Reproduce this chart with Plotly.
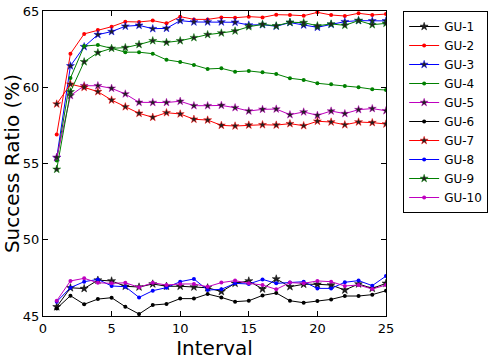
import plotly.graph_objects as go

intervals = list(range(1, 26))

gu1 = [45.6, 46.85, 46.8, 47.35, 47.3, 46.95, 46.9, 47.1, 46.95, 46.95, 46.9, 46.85, 46.6, 47.14, 47.3, 46.77, 47.43, 46.92, 47.08, 47.08, 47.03, 46.7, 47.1, 46.81, 47.14]
gu2 = [56.9, 62.2, 63.5, 63.75, 63.97, 64.3, 64.28, 64.37, 64.19, 64.63, 64.45, 64.45, 64.58, 64.56, 64.63, 64.58, 64.76, 64.74, 64.69, 64.91, 64.74, 64.67, 64.85, 64.74, 64.8]
gu3 = [55.38, 61.4, 62.66, 63.45, 63.65, 64.0, 64.06, 63.84, 63.86, 64.37, 64.28, 64.28, 64.28, 64.26, 64.08, 64.1, 64.0, 64.24, 64.08, 63.93, 64.12, 64.3, 64.37, 64.35, 64.35]
gu4 = [55.2, 60.6, 62.7, 62.77, 62.55, 62.3, 62.3, 62.2, 61.8, 61.66, 61.46, 61.2, 61.24, 61.02, 61.07, 60.98, 60.87, 60.59, 60.48, 60.26, 60.19, 60.08, 60.0, 59.87, 59.82]
gu5 = [55.4, 59.45, 60.1, 60.1, 59.93, 59.56, 59.01, 59.0, 59.0, 59.08, 58.79, 58.79, 58.81, 58.66, 58.44, 58.55, 58.57, 58.2, 58.38, 58.16, 58.44, 58.27, 58.53, 58.6, 58.46]
gu6 = [45.5, 46.33, 45.77, 46.11, 46.2, 45.61, 45.13, 45.72, 45.79, 46.14, 46.14, 46.44, 46.22, 45.94, 46.0, 46.35, 46.51, 46.0, 45.87, 45.98, 46.09, 46.31, 46.31, 46.4, 46.66]
gu7 = [58.9, 60.2, 59.99, 59.71, 59.16, 58.72, 58.29, 58.03, 58.33, 58.25, 57.9, 57.85, 57.5, 57.46, 57.52, 57.54, 57.52, 57.61, 57.48, 57.77, 57.72, 57.54, 57.72, 57.68, 57.59]
gu8 = [45.94, 46.86, 47.25, 47.4, 46.97, 46.92, 46.22, 46.66, 46.86, 47.25, 47.43, 46.7, 46.75, 47.14, 47.1, 47.4, 47.14, 47.19, 47.25, 46.81, 46.81, 47.21, 47.32, 46.99, 47.62]
gu9 = [54.62, 59.7, 61.67, 62.27, 62.55, 62.6, 62.8, 63.05, 62.94, 63.05, 63.25, 63.45, 63.56, 63.69, 63.97, 64.12, 64.03, 64.26, 64.24, 64.03, 64.15, 64.06, 64.37, 64.1, 64.19]
gu10 = [46.0, 47.3, 47.47, 47.18, 47.14, 47.18, 46.88, 47.18, 47.03, 47.1, 47.1, 46.92, 47.19, 47.32, 47.14, 47.03, 46.75, 47.19, 47.14, 47.3, 47.25, 46.97, 47.03, 46.77, 47.03]

series_names = ["GU-1", "GU-2", "GU-3", "GU-4", "GU-5", "GU-6", "GU-7", "GU-8", "GU-9", "GU-10"]
series_values = [gu1, gu2, gu3, gu4, gu5, gu6, gu7, gu8, gu9, gu10]
colors = ["#000000", "#ff0000", "#0000ff", "#008000", "#bf00bf",
          "#000000", "#ff0000", "#0000ff", "#008000", "#bf00bf"]
stars = [True, False, True, False, True, False, True, False, True, False]

fig = go.Figure()
for name, vals, col, st in zip(series_names, series_values, colors, stars):
    if st:
        marker = dict(symbol="star", size=6, color="#202020", line=dict(color=col, width=0.5))
    else:
        marker = dict(symbol="circle", size=4, color=col, line=dict(width=0))
    fig.add_trace(go.Scatter(x=intervals, y=vals, name=name, mode="lines+markers",
                             line=dict(color=col, width=1), marker=marker))

axis_common = dict(showline=True, linecolor="#000000", linewidth=1, mirror="allticks",
                   ticks="inside", ticklen=5, tickcolor="#000000", showgrid=False,
                   zeroline=False, tickfont=dict(family="DejaVu Sans", size=13, color="#000000"))

fig.update_xaxes(range=[0, 25], tickvals=[0, 5, 10, 15, 20, 25],
                 title=dict(text="Interval", font=dict(family="DejaVu Sans", size=20, color="#000000"), standoff=2),
                 **axis_common)
fig.update_yaxes(range=[45, 65], tickvals=[45, 50, 55, 60, 65],
                 title=dict(text="Success Ratio (%)", font=dict(family="DejaVu Sans", size=20, color="#000000"), standoff=2),
                 **axis_common)

fig.update_layout(
    width=489, height=360,
    margin=dict(l=43, r=103, t=11, b=44, autoexpand=False),
    plot_bgcolor="white", paper_bgcolor="white",
    legend=dict(x=1.05, y=1, xanchor="left", yanchor="top",
                bordercolor="#000000", borderwidth=1, bgcolor="white",
                font=dict(family="DejaVu Sans", size=12, color="#000000"),
                tracegroupgap=0, itemwidth=30),
    showlegend=True,
)

fig.write_html("out.html")
